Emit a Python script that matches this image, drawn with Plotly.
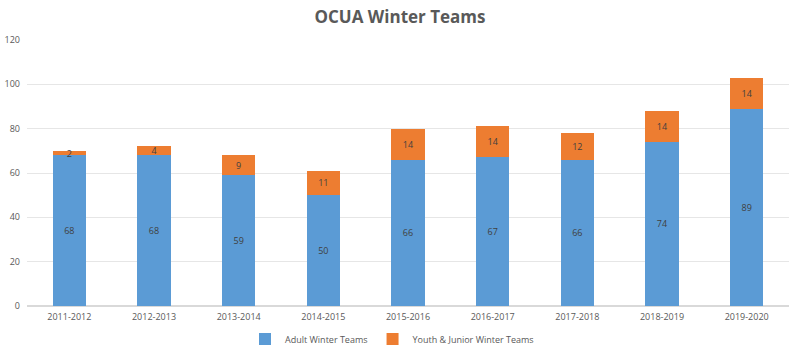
import plotly.graph_objects as go

seasons = ["2011-2012", "2012-2013", "2013-2014", "2014-2015", "2015-2016",
           "2016-2017", "2017-2018", "2018-2019", "2019-2020"]
adult = [68, 68, 59, 50, 66, 67, 66, 74, 89]
youth = [2, 4, 9, 11, 14, 14, 12, 14, 14]
y_ticks = [0, 20, 40, 60, 80, 100, 120]

font_family = "Open Sans, Liberation Sans, sans-serif"

fig = go.Figure()
fig.add_trace(go.Bar(
    x=seasons, y=adult, name="Adult Winter Teams",
    marker=dict(color="#5B9BD5", line=dict(width=0)),
    text=[str(v) for v in adult], textposition="inside", insidetextanchor="middle",
    textangle=0, constraintext="none",
    textfont=dict(color="#404040", size=9, family=font_family),
))
fig.add_trace(go.Bar(
    x=seasons, y=youth, name="Youth & Junior Winter Teams",
    marker=dict(color="#ED7D31", line=dict(width=0)),
    text=[str(v) for v in youth], textposition="inside", insidetextanchor="middle",
    textangle=0, constraintext="none",
    textfont=dict(color="#404040", size=9, family=font_family),
))

fig.update_layout(
    width=800, height=354,
    barmode="stack", bargap=0.61,
    paper_bgcolor="white", plot_bgcolor="white",
    margin=dict(l=27, r=11, t=40, b=48, autoexpand=False),
    title=dict(text="<b>OCUA Winter Teams</b>", x=0.5, xanchor="center",
               yref="container", y=1 - 17 / 354, yanchor="middle",
               font=dict(size=17, color="#595959", family=font_family)),
    font=dict(family=font_family, color="#595959", size=9),
    uniformtext=dict(minsize=8, mode="show"),
    legend=dict(orientation="h", xref="container", x=0.49, xanchor="center",
                yref="container", y=1 - 339 / 354, yanchor="middle",
                font=dict(size=9, color="#595959"), itemwidth=30,
                entrywidth=0, traceorder="normal"),
    showlegend=True,
)
fig.update_yaxes(range=[0, 120], tickvals=y_ticks, showgrid=True, gridcolor="#E6E6E6",
                 gridwidth=1, zeroline=True, zerolinecolor="#D9D9D9", ticks="",
                 tickfont=dict(size=9, color="#595959"), ticklabelstandoff=6, fixedrange=True)
fig.update_xaxes(showgrid=False, showline=False, ticks="",
                 tickfont=dict(size=9, color="#595959"), ticklabelstandoff=4, fixedrange=True)

fig.write_html("out.html")
